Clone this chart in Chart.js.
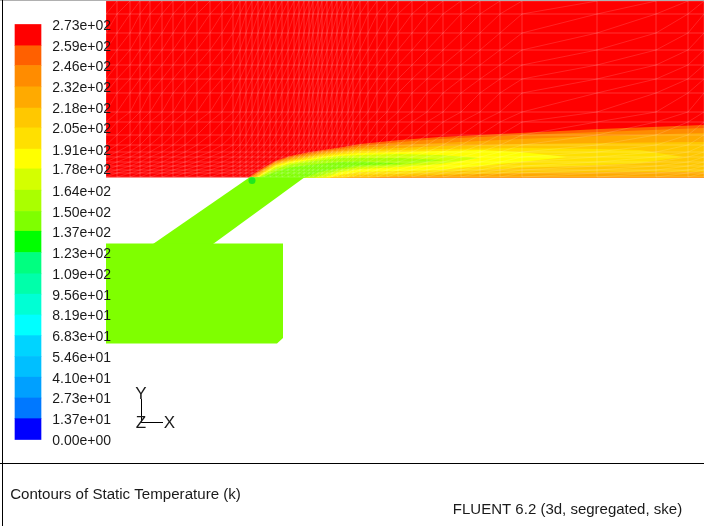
<!DOCTYPE html>
<html>
<head>
<meta charset="utf-8">
<title>Contours of Static Temperature</title>
<script src="https://cdn.jsdelivr.net/npm/chart.js@4/dist/chart.umd.min.js"></script>
<style>
  html, body { margin: 0; padding: 0; background: #fff; }
  canvas { display: block; }
</style>
</head>
<body>
<canvas id="contourChart" width="704" height="526"></canvas>
<script>
// colour bar, top level first
const levelLabels = ['2.73e+02', '2.59e+02', '2.46e+02', '2.32e+02', '2.18e+02', '2.05e+02', '1.91e+02',
  '1.78e+02', '1.64e+02', '1.50e+02', '1.37e+02', '1.23e+02', '1.09e+02', '9.56e+01', '8.19e+01',
  '6.83e+01', '5.46e+01', '4.10e+01', '2.73e+01', '1.37e+01', '0.00e+00'];
const levelColors = ['#ff0000', '#ff6000', '#ff8c00', '#ffaa00', '#ffc800', '#ffe000', '#ffff00',
  '#d4ff00', '#aaff00', '#7fff00', '#00ff00', '#00ff80', '#00ffaa', '#00ffd4', '#00ffff',
  '#00d4ff', '#00bfff', '#00a0ff', '#0078ff', '#0000ff'];

// flow domain outlines, in picture units
const airRegion = [[106, 1], [704, 1], [704, 177.5], [106, 177.5]];
const ductRegion = [[250, 177], [305, 177], [213, 244], [153, 244]];
const plenumRegion = [[106, 243.5], [283, 243.5], [283, 338], [277, 343.5], [106, 343.5]];
const coldSpot = [[252, 180.5]];

// plume contour bands, outermost first
const plume259 = [[248, 177.5], [262, 168.5], [275, 161], [290, 156], [307, 152.5], [323, 150], [340, 147.5], [360, 144], [400, 140], [440, 137], [480, 135], [520, 133], [600, 129], [704, 125], [704, 177.5]];
const plume246 = [[250, 177.5], [262, 170], [275, 162], [290, 157.3], [307, 154], [323, 151.3], [340, 149], [360, 146], [400, 142], [440, 139], [480, 137], [520, 135], [600, 132], [704, 128], [704, 177.5]];
const plume232 = [[252, 177.5], [262, 171], [275, 163], [290, 158.5], [307, 155.5], [323, 152.6], [340, 150.5], [360, 148], [400, 145], [440, 143], [480, 141], [520, 139], [600, 136], [704, 133], [704, 177.5]];
const plume218 = [[254, 177.5], [262, 172], [275, 164], [290, 159.7], [307, 156.7], [323, 153.8], [340, 151.7], [360, 149.5], [400, 148], [440, 146], [480, 145], [520, 144], [600, 143], [704, 142], [704, 172], [640, 172], [520, 173], [440, 175], [400, 176], [370, 177.5]];
const plume205 = [[256, 177.5], [262, 173], [275, 165], [290, 160.8], [307, 157.8], [323, 155], [340, 153], [360, 151], [400, 150], [440, 149], [480, 148.5], [520, 148], [600, 149], [640, 150], [683, 157], [640, 163], [600, 165], [520, 168], [440, 172], [400, 174], [360, 175], [345, 177.5]];
const plume191 = [[257, 177.5], [262, 174], [275, 166], [290, 161.8], [307, 159.2], [323, 156.5], [340, 154.5], [360, 153], [400, 152], [440, 151], [480, 150], [520, 152], [567, 157], [520, 162], [480, 166], [440, 170], [400, 171], [360, 172], [340, 175], [330, 177.5]];
const plume178 = [[258, 177.5], [262, 175], [275, 167.5], [290, 163.2], [307, 160.6], [323, 158], [340, 156], [360, 155], [400, 154], [440, 155], [480, 158], [440, 164], [400, 167], [360, 169], [340, 172], [325, 177.5]];
const plume164 = [[259, 177.5], [262, 176], [275, 169.5], [290, 164.8], [307, 162.2], [323, 160], [340, 158], [360, 158], [400, 158], [445, 160], [400, 165], [360, 167], [340, 170], [325, 174], [315, 177.5]];
const plume150 = [[262, 177.5], [275, 172], [290, 167.5], [307, 165.3], [323, 163.5], [340, 162], [360, 161.5], [403, 163.5], [360, 165.5], [340, 168], [320, 172], [305, 177.5]];

// mesh node columns and rows
const meshX = [106, 117, 130, 140, 150, 162, 173, 185, 197, 210, 222, 233, 240, 246, 252, 258, 264, 270, 276, 282,
  288, 294, 299, 304, 309, 313, 318, 322, 327, 332, 337, 342, 348, 353, 360, 368, 377, 387, 398, 412,
  427, 443, 461, 480, 500, 522, 597, 656, 688, 704];
const meshY = [177, 173, 170, 166, 162, 157, 152, 145, 135, 122, 112, 93, 79, 65, 50, 33, 14, 1];

// triad and frame
const frameLeft = [[2.5, 0], [2.5, 526]];
const frameTop = [[0, 0.5], [704, 0.5]];
const frameBottom = [[0, 463.5], [704, 463.5]];
const triadY = [[141.5, 399], [141.5, 422.5]];
const triadX = [[141.5, 422.5], [163, 422.5]];
const captions = [
  { text: 'Y', x: 141, y: 394.5, size: 17 },
  { text: 'Z', x: 141, y: 423, size: 17 },
  { text: 'X', x: 169.5, y: 423, size: 17 },
  { text: 'Contours of Static Temperature (k)', x: 125.5, y: 495, size: 15.1 },
  { text: 'FLUENT 6.2 (3d, segregated, ske)', x: 567.5, y: 510, size: 15 }
];

const FONT = '"Liberation Sans", Arial, sans-serif';
const levelValues = levelLabels.map(Number);
const toPoints = path => path.map(p => ({ x: p[0], y: p[1] }));

function area(path, color) {
  return { type: 'scatter', data: toPoints(path), showLine: true, fill: 'shape', backgroundColor: color,
    borderColor: color, borderWidth: 0, pointRadius: 0, yAxisID: 'y' };
}
function line(path, color, width) {
  return { type: 'scatter', data: toPoints(path), showLine: true, fill: false, borderColor: color,
    borderWidth: width, pointRadius: 0, yAxisID: 'y' };
}

// grid lines of the mesh
const gridPath = [];
meshX.forEach(x => gridPath.push({ x, y: meshY[0] }, { x, y: meshY[meshY.length - 1] }, { x: null, y: null }));
meshY.forEach(y => gridPath.push({ x: meshX[0], y }, { x: meshX[meshX.length - 1], y }, { x: null, y: null }));

// cell diagonals join node (i, j) to node (i + 1, j + 1)
const diagPath = [];
for (let k = -meshY.length; k < meshX.length; k++) {
  for (let j = 0; j < meshY.length; j++) {
    if (meshX[k + j] !== undefined) diagPath.push({ x: meshX[k + j], y: meshY[j] });
  }
  diagPath.push({ x: null, y: null });
}

const layers = [
  area(airRegion, levelColors[0]),
  area(plume259, levelColors[1]),
  area(plume246, levelColors[2]),
  area(plume232, levelColors[3]),
  area(plume218, levelColors[4]),
  area(plume205, levelColors[5]),
  area(plume191, levelColors[6]),
  area(plume178, levelColors[7]),
  area(plume164, levelColors[8]),
  area(plume150, levelColors[9]),
  area(ductRegion, levelColors[9]),
  area(plenumRegion, levelColors[9]),
  { type: 'scatter', data: toPoints(coldSpot), pointRadius: 3.5, pointBackgroundColor: '#1fe81f', pointBorderWidth: 0, yAxisID: 'y' },
  { type: 'scatter', data: diagPath, showLine: true, fill: false, borderColor: 'rgba(255,255,255,0.14)', borderWidth: 1, pointRadius: 0, yAxisID: 'y' },
  { type: 'scatter', data: gridPath, showLine: true, fill: false, borderColor: 'rgba(255,255,255,0.2)', borderWidth: 1, pointRadius: 0, yAxisID: 'y' },
  line(frameTop, '#b0b0b0', 1),
  line(frameLeft, '#000', 1),
  line(frameBottom, '#000', 1),
  line(triadY, '#000', 1),
  line(triadX, '#000', 1),
  {
    type: 'bar',
    data: levelColors.map((c, i) => ({ x: 28, y: [levelValues[i + 1], levelValues[i]] })),
    backgroundColor: levelColors,
    barThickness: 26,
    yAxisID: 'yLevel'
  }
];
// later layers paint on top
layers.forEach((d, i) => { d.order = -i; });

const captionPlugin = {
  id: 'captions',
  afterDatasetsDraw(chart) {
    const { ctx, scales } = chart;
    ctx.save();
    ctx.fillStyle = '#1a1a1a';
    ctx.textAlign = 'center';
    ctx.textBaseline = 'middle';
    captions.forEach(c => {
      ctx.font = c.size + 'px ' + FONT;
      ctx.fillText(c.text, scales.x.getPixelForValue(c.x), scales.y.getPixelForValue(c.y));
    });
    ctx.restore();
  }
};

new Chart(document.getElementById('contourChart').getContext('2d'), {
  type: 'scatter',
  data: { datasets: layers },
  plugins: [captionPlugin],
  options: {
    responsive: false,
    animation: false,
    layout: { padding: 0, autoPadding: false },
    plugins: { legend: { display: false }, tooltip: { enabled: false }, title: { display: false } },
    scales: {
      x: { type: 'linear', min: 0, max: 704, display: false, offset: false, grid: { offset: false } },
      y: { type: 'linear', min: 0, max: 526, reverse: true, display: false },
      // range chosen so 0 to 273 spans the colour bar
      yLevel: { type: 'linear', axis: 'y', min: -56.9, max: 289.1, display: false },
      // same range, nudged so the labels sit a little below the band edges
      yLabels: {
        type: 'linear',
        axis: 'y',
        min: -55.9,
        max: 290.1,
        position: { x: 111 },
        grid: { display: false, drawTicks: false },
        border: { display: false },
        afterBuildTicks: axis => { axis.ticks = levelValues.map(value => ({ value })); },
        afterFit: axis => { axis.paddingTop = 0; axis.paddingBottom = 0; axis.paddingLeft = 0; axis.paddingRight = 0; },
        ticks: {
          z: 5,
          autoSkip: false,
          padding: 0,
          color: '#1a1a1a',
          font: { family: FONT, size: 14 },
          callback: value => levelLabels[levelValues.indexOf(value)]
        }
      }
    }
  }
});
</script>
</body>
</html>
